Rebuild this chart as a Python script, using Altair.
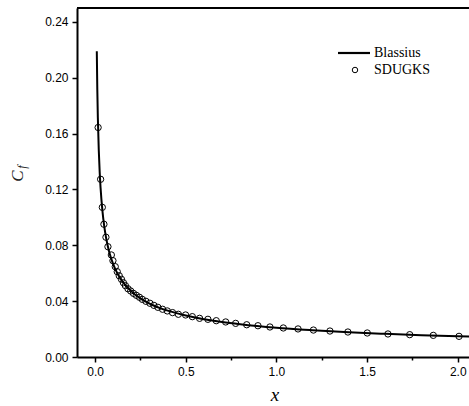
import altair as alt
import pandas as pd

# Blasius solution
blasius_x = [0.0092, 0.012, 0.015, 0.02, 0.025, 0.03, 0.04, 0.05, 0.06, 0.07, 0.08,
             0.10, 0.12, 0.15, 0.20, 0.25, 0.30, 0.40, 0.50, 0.60, 0.70, 0.80,
             1.00, 1.20, 1.40, 1.60, 1.80, 2.00, 2.10]
blasius_cf = [0.219, 0.1917, 0.1714, 0.1485, 0.1328, 0.1212, 0.1050, 0.0939, 0.0857, 0.0794, 0.0742,
              0.0664, 0.0606, 0.0542, 0.0470, 0.0420, 0.0383, 0.0332, 0.0297, 0.0271, 0.0251, 0.0235,
              0.0210, 0.0192, 0.0177, 0.0166, 0.0156, 0.0148, 0.0145]

# SDUGKS results (read from the circles)
sdugks_x = [0.0165, 0.0303, 0.0397, 0.0485, 0.0596, 0.0706, 0.0894, 0.0982, 0.111, 0.122,
            0.133, 0.145, 0.156, 0.167, 0.181, 0.196, 0.211, 0.227, 0.244, 0.260,
            0.280, 0.302, 0.324, 0.346, 0.372, 0.398, 0.427, 0.459, 0.499, 0.536,
            0.576, 0.622, 0.668, 0.720, 0.775, 0.836, 0.898, 0.964, 1.038, 1.119,
            1.204, 1.295, 1.394, 1.501, 1.615, 1.735, 1.865, 2.007]
sdugks_cf = [0.1644, 0.1273, 0.1072, 0.0951, 0.0858, 0.0790, 0.0731, 0.0690, 0.0647, 0.0611,
             0.0582, 0.0557, 0.0532, 0.0511, 0.0489, 0.0473, 0.0456, 0.0442, 0.0428, 0.0413,
             0.0399, 0.0385, 0.0370, 0.0356, 0.0342, 0.0330, 0.0318, 0.0306, 0.0301, 0.0289,
             0.0277, 0.0270, 0.0260, 0.0251, 0.0241, 0.0231, 0.0224, 0.0215, 0.0208, 0.0201,
             0.0193, 0.0186, 0.0179, 0.0172, 0.0165, 0.0160, 0.0155, 0.0148]

x_ticks = [0.0, 0.25, 0.5, 0.75, 1.0, 1.25, 1.5, 1.75, 2.0]
y_ticks = [0.0, 0.02, 0.04, 0.06, 0.08, 0.10, 0.12, 0.14, 0.16, 0.18, 0.20, 0.22, 0.24]

legend_labels = ["Blassius", "SDUGKS"]
x_title = "x"
y_title_main = "C"
y_title_sub = "f"

W, H = 392, 349
LABEL_FONT = "Liberation Sans"
SERIF = "Liberation Serif"

df_line = pd.DataFrame({"x": blasius_x, "cf": blasius_cf})
df_pts = pd.DataFrame({"x": sdugks_x, "cf": sdugks_cf})

xscale = alt.Scale(domain=[-0.1, 2.062], nice=False, zero=False)
yscale = alt.Scale(domain=[0.0, 0.25], nice=False, zero=False)

xmajor = "round(datum.value * 4) % 2 == 0"
ymajor = "round(datum.value * 100) % 4 == 0"

xaxis = alt.Axis(
    values=x_ticks, title=None, grid=False,
    labelExpr=f"{xmajor} ? format(datum.value, '.1f') : ''",
    tickSize={"condition": {"test": xmajor, "value": 5}, "value": 3},
    tickColor="black", tickWidth=1.5, domainColor="black", domainWidth=2,
    labelFont=LABEL_FONT, labelFontSize=12, labelColor="black", labelPadding=4,
    labelFlush=False, labelOverlap=False,
)
yaxis = alt.Axis(
    values=y_ticks, title=None, grid=False,
    labelExpr=f"{ymajor} ? format(datum.value, '.2f') : ''",
    tickSize={"condition": {"test": ymajor, "value": 5}, "value": 3},
    tickColor="black", tickWidth=1.5, domainColor="black", domainWidth=2,
    labelFont=LABEL_FONT, labelFontSize=12, labelColor="black", labelPadding=4,
    labelFlush=False, labelOverlap=False,
)

line = alt.Chart(df_line).mark_line(color="black", strokeWidth=2, clip=True, interpolate="monotone").encode(
    x=alt.X("x:Q", scale=xscale, axis=xaxis),
    y=alt.Y("cf:Q", scale=yscale, axis=yaxis),
)

pts = alt.Chart(df_pts).mark_point(shape="circle", filled=False, color="black", size=40,
                                   strokeWidth=1, opacity=1, clip=True).encode(
    x=alt.X("x:Q", scale=xscale),
    y=alt.Y("cf:Q", scale=yscale),
)

one = pd.DataFrame({"a": [0]})

top_border = alt.Chart(one).mark_rule(color="black", strokeWidth=2).encode(
    x=alt.value(0), x2=alt.value(W), y=alt.value(0)
)

leg_line = alt.Chart(one).mark_rule(color="black", strokeWidth=2.2).encode(
    x=alt.value(261), x2=alt.value(293), y=alt.value(45)
)
leg_pt = alt.Chart(one).mark_point(shape="circle", filled=False, color="black", size=30,
                                   strokeWidth=1, opacity=1).encode(
    x=alt.value(278), y=alt.value(62)
)
leg_t1 = alt.Chart(one).mark_text(text=legend_labels[0], font=SERIF, fontSize=14, align="left",
                                  baseline="middle", color="black").encode(
    x=alt.value(297), y=alt.value(45)
)
leg_t2 = alt.Chart(one).mark_text(text=legend_labels[1], font=SERIF, fontSize=14, align="left",
                                  baseline="middle", color="black").encode(
    x=alt.value(297), y=alt.value(62)
)

xt = alt.Chart(one).mark_text(text=x_title, font=SERIF, fontSize=19, fontStyle="italic",
                              align="center", baseline="middle", color="black").encode(
    x=alt.value(198), y=alt.value(387)
)
yt_c = alt.Chart(one).mark_text(text=y_title_main, font=SERIF, fontSize=17, fontStyle="italic",
                                align="center", baseline="middle", angle=270, color="#222222").encode(
    x=alt.value(-59), y=alt.value(168)
)
yt_f = alt.Chart(one).mark_text(text=y_title_sub, font=SERIF, fontSize=12, fontStyle="italic",
                                align="center", baseline="middle", angle=270, color="#222222").encode(
    x=alt.value(-55), y=alt.value(159)
)

chart = alt.layer(
    line, pts, top_border, leg_line, leg_pt, leg_t1, leg_t2, xt, yt_c, yt_f
).properties(
    width=W, height=H,
    autosize=alt.AutoSizeParams(type="none"),
    padding={"left": 77, "top": 8, "right": 0, "bottom": 49},
    background="white",
).configure_view(stroke=None)

chart.save("out.html", embed_options={"renderer": "svg", "actions": False})
